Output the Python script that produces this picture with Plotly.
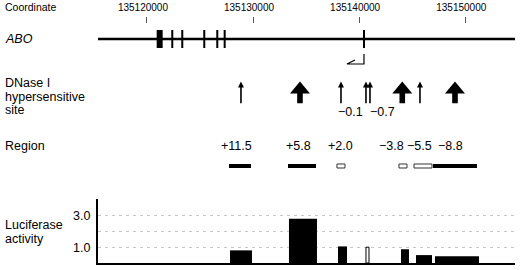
import plotly.graph_objects as go

W, H = 520, 270

# ---------------- data ----------------
coord_ticks = [135120000, 135130000, 135140000, 135150000]
coord_tick_labels = ["135120000", "135130000", "135140000", "135150000"]
locus_range = [135115390, 135154690]

exon_start = [135120920, 135122295, 135123237, 135125310, 135126536, 135127233, 135140362]
exon_end = [135121485, 135122485, 135123427, 135125500, 135126726, 135127423, 135140552]
tss = 135140457

dhs_pos = [135128864, 135134425, 135138289, 135140646, 135141023, 135144067, 135145735, 135149034]
dhs_strong = [False, True, False, False, False, True, False, True]
dhs_labels = ["", "", "", "\u22120.1", "\u22120.7", "", "", ""]

region_labels = ["+11.5", "+5.8", "+2.0", "\u22123.8", "\u22125.5", "\u22128.8"]
region_start = [135127733, 135133294, 135137912, 135143756, 135145170, 135146960]
region_end = [135129807, 135135933, 135138666, 135144510, 135146866, 135151107]
region_filled = [True, True, False, False, False, True]

luc_start = [135127828, 135133388, 135138007, 135140646, 135143944, 135145358, 135147149]
luc_end = [135129901, 135136027, 135138855, 135140929, 135144698, 135146866, 135151296]
luc_value = [0.8, 2.8, 1.05, 1.0, 0.87, 0.5, 0.42]
luc_filled = [True, True, True, False, True, True, True]

luc_tick_vals = [1, 2, 3, 4]
luc_tick_labels = ["1.0", "", "3.0", ""]

# ---------------- layout helpers ----------------
FONT = "Liberation Sans, Arial, Helvetica, sans-serif"
X0_PX, X1_PX = 98, 515
BPP = (locus_range[1] - locus_range[0]) / (X1_PX - X0_PX)  # bp per pixel


def py(p):
    return 1 - p / H


def px(p):
    return p / W


# track rows (pixel rows)
GENE_Y = 39
EXON_TOP, EXON_BOT = 30, 48
PROM_TOP, PROM_BOT = 54, 64
DHS_TIP, DHS_BASE = 81.5, 103.3
DHS_LABEL_Y = 111.7
REGION_LABEL_Y = 145.7
REGION_TOP, REGION_BOT = 164, 168
region_label_shift = [-3, -3, 0, -11, -3, -4]

shapes = []
# gene line
shapes.append(dict(type="line", xref="x", yref="paper", x0=locus_range[0], x1=locus_range[1],
                   y0=py(GENE_Y), y1=py(GENE_Y), line=dict(color="black", width=2.5), layer="above"))
# exons
for s, e in zip(exon_start, exon_end):
    shapes.append(dict(type="rect", xref="x", yref="paper", x0=s, x1=e,
                       y0=py(EXON_BOT), y1=py(EXON_TOP), fillcolor="black",
                       line=dict(width=0), layer="above"))
# promoter bent arrow (transcription leftwards)
path = (f"M {tss},{py(PROM_TOP)} L {tss},{py(PROM_BOT)} "
        f"L {tss - 17 * BPP},{py(PROM_BOT)} L {tss - 9 * BPP},{py(PROM_BOT - 4)}")
shapes.append(dict(type="path", xref="x", yref="paper", path=path,
                   line=dict(color="black", width=1.2), layer="above"))


# DHS arrows
def arrow_path(x, strong):
    if strong:
        hw, hl, sw = 10, 12, 2.8
    else:
        hw, hl, sw = 3, 6, 0.8
    pts = [
        (x, DHS_TIP),
        (x + hw * BPP, DHS_TIP + hl),
        (x + sw * BPP, DHS_TIP + hl),
        (x + sw * BPP, DHS_BASE),
        (x - sw * BPP, DHS_BASE),
        (x - sw * BPP, DHS_TIP + hl),
        (x - hw * BPP, DHS_TIP + hl),
    ]
    return "M " + " L ".join(f"{a},{py(b)}" for a, b in pts) + " Z"


for x, strong in zip(dhs_pos, dhs_strong):
    shapes.append(dict(type="path", xref="x", yref="paper", path=arrow_path(x, strong),
                       fillcolor="black", line=dict(width=0), layer="above"))

# region bars
for s, e, f in zip(region_start, region_end, region_filled):
    shapes.append(dict(type="rect", xref="x", yref="paper", x0=s, x1=e,
                       y0=py(REGION_BOT), y1=py(REGION_TOP),
                       fillcolor="black" if f else "white",
                       line=dict(color="#333", width=0 if f else 1), layer="above"))

annotations = []


def label(text, xp, yp, size=12.5, anchor="left"):
    annotations.append(dict(text=text, x=px(xp), y=py(yp), xref="paper", yref="paper",
                            xanchor=anchor, yanchor="middle", showarrow=False,
                            font=dict(family=FONT, size=size, color="black")))


label("Coordinate", 3, 7.3, size=10.5)
label("<i>ABO</i>", 3, GENE_Y)
label("DNase I", 3, 83.3)
label("hypersensitive", 3, 96.5)
label("site", 3, 110)
label("Region", 3, REGION_LABEL_Y)
label("Luciferase", 3, 225)
label("activity", 3, 238.5)

# DHS labels (-0.1 left of its arrow, -0.7 right of its arrow)
for i, (x, t) in enumerate(zip(dhs_pos, dhs_labels)):
    if not t:
        continue
    left = t == "\u22120.1"
    annotations.append(dict(text=t, x=x, y=py(DHS_LABEL_Y), xref="x", yref="paper",
                            xanchor="right" if left else "left", yanchor="middle",
                            xshift=-1 if left else -2, showarrow=False,
                            font=dict(family=FONT, size=12.5, color="black")))

# region labels
for s, e, t, sh in zip(region_start, region_end, region_labels, region_label_shift):
    annotations.append(dict(text=t, x=(s + e) / 2, y=py(REGION_LABEL_Y), xref="x", yref="paper",
                            xanchor="center", yanchor="middle", xshift=sh, showarrow=False,
                            font=dict(family=FONT, size=12.5, color="black")))

# ---------------- figure ----------------
fig = go.Figure()
fig.add_trace(go.Bar(
    x=[(s + e) / 2 for s, e in zip(luc_start, luc_end)],
    width=[e - s for s, e in zip(luc_start, luc_end)],
    y=luc_value,
    marker=dict(color=["black" if f else "white" for f in luc_filled],
                line=dict(color="black", width=[0 if f else 1 for f in luc_filled])),
    hoverinfo="skip", showlegend=False,
))
# carrier for the top coordinate axis
fig.add_trace(go.Scatter(x=[coord_ticks[0]], y=[0], xaxis="x2", yaxis="y", mode="markers",
                         marker=dict(opacity=0), hoverinfo="skip", showlegend=False))

fig.update_layout(
    width=W, height=H,
    margin=dict(l=0, r=0, t=0, b=0),
    paper_bgcolor="white", plot_bgcolor="rgba(0,0,0,0)",
    font=dict(family=FONT, color="black"),
    xaxis=dict(domain=[px(X0_PX), px(X1_PX)], range=locus_range, showline=True,
               linecolor="black", linewidth=2, ticks="", showticklabels=False,
               showgrid=False, zeroline=False, fixedrange=True),
    xaxis2=dict(overlaying="x", side="top", anchor="free", position=py(23),
                range=locus_range, tickmode="array", tickvals=coord_ticks,
                ticktext=coord_tick_labels, ticks="outside", ticklen=6, tickwidth=1,
                tickcolor="#555", showline=False, showgrid=False, zeroline=False,
                ticklabelshift=-4, ticklabelstandoff=2,
                tickfont=dict(family=FONT, size=10, color="black"), fixedrange=True),
    yaxis=dict(domain=[py(263), py(199)], range=[0, 4.05], showline=True,
               linecolor="black", linewidth=2, tickmode="array", tickvals=luc_tick_vals,
               ticktext=luc_tick_labels, ticks="outside", ticklen=3,
               tickcolor="rgba(0,0,0,0)", showgrid=True, gridcolor="#c8c8c8",
               griddash="3px,4px", gridwidth=1, zeroline=False,
               tickfont=dict(family=FONT, size=12.5, color="black"), fixedrange=True),
    shapes=shapes,
    annotations=annotations,
    showlegend=False,
)

fig.write_html("out.html", config={"displayModeBar": False},
               post_script="document.body.style.margin='0';document.body.style.overflow='hidden';")
